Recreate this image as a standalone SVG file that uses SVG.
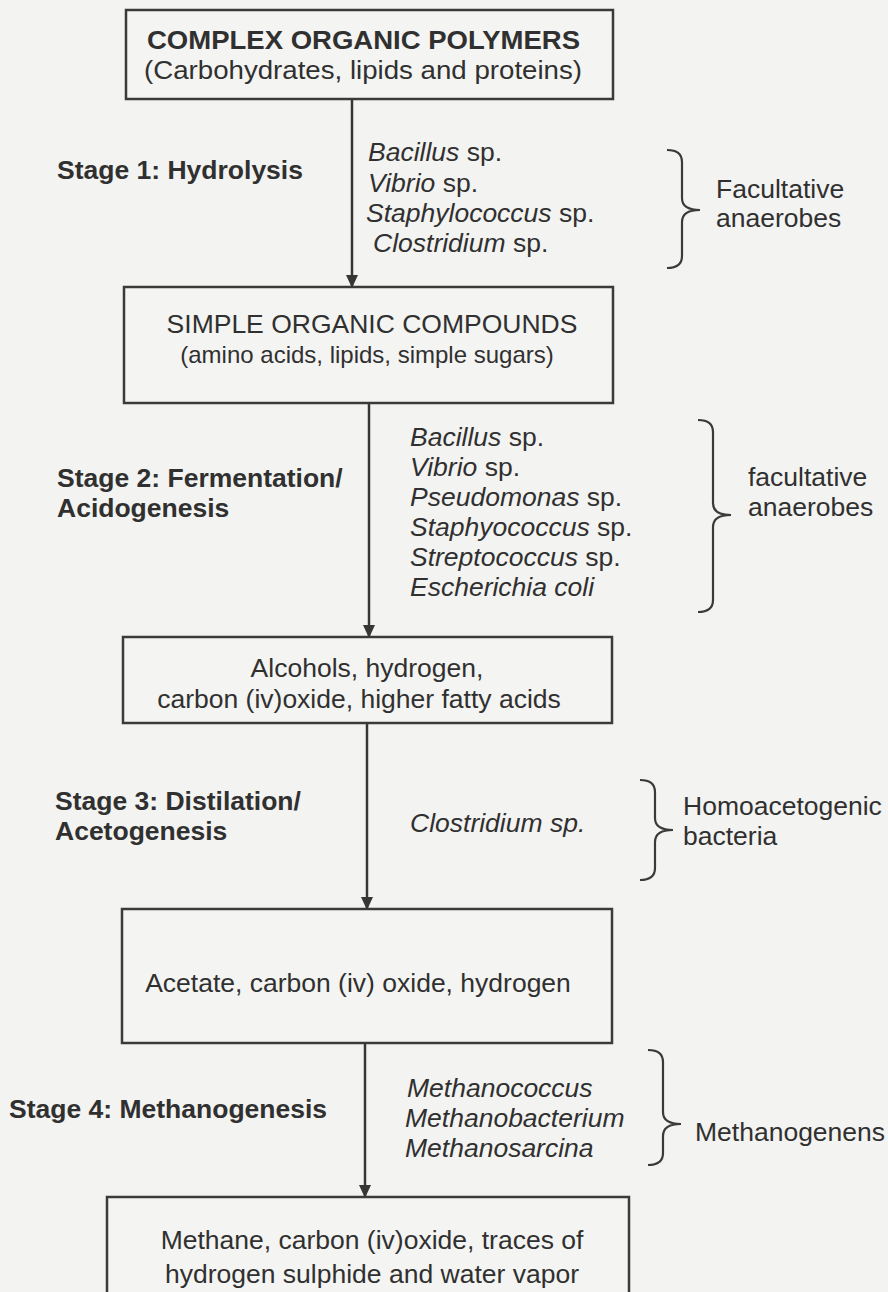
<svg xmlns="http://www.w3.org/2000/svg" width="888" height="1292" viewBox="0 0 888 1292">
<defs>
<marker id="ah" markerWidth="13" markerHeight="12" refX="12" refY="6" orient="auto" markerUnits="userSpaceOnUse" viewBox="0 0 13 12">
<path d="M0,0 L13,6 L0,12 Z" fill="#363636"/>
</marker>
<style>
.box{fill:#f4f4f2;stroke:#3a3a3a;stroke-width:2.5}
.t{font-family:"Liberation Sans",Arial,sans-serif;font-size:26.5px;fill:#303030}
.b{font-weight:bold}
.i{font-style:italic}
.c{text-anchor:middle}
.con{stroke:#363636;stroke-width:2.5;fill:none}
.br{stroke:#3a3a3a;stroke-width:2.2;fill:none}
</style>
</defs>
<rect x="0" y="0" width="888" height="1292" fill="#f3f3f1"/>

<g id="connectors">
<line class="con" x1="352" y1="100" x2="352" y2="287" marker-end="url(#ah)"/>
<line class="con" x1="369" y1="404" x2="369" y2="637" marker-end="url(#ah)"/>
<line class="con" x1="367" y1="724" x2="367" y2="909" marker-end="url(#ah)"/>
<line class="con" x1="365" y1="1044" x2="365" y2="1197" marker-end="url(#ah)"/>
</g>

<g id="node1">
<rect class="box" x="126" y="10" width="487" height="89"/>
<text class="t b" x="147" y="49" textLength="433" lengthAdjust="spacingAndGlyphs">COMPLEX ORGANIC POLYMERS</text>
<text class="t" x="144" y="79" textLength="438" lengthAdjust="spacingAndGlyphs">(Carbohydrates, lipids and proteins)</text>
</g>

<g id="node2">
<rect class="box" x="124" y="287" width="489" height="116"/>
<text class="t c" x="372" y="333">SIMPLE ORGANIC COMPOUNDS</text>
<text class="t c" x="367" y="363" style="font-size:24px">(amino acids, lipids, simple sugars)</text>
</g>

<g id="node3">
<rect class="box" x="123" y="637" width="489" height="86"/>
<text class="t c" x="367" y="677">Alcohols, hydrogen,</text>
<text class="t c" x="359" y="708">carbon (iv)oxide, higher fatty acids</text>
</g>

<g id="node4">
<rect class="box" x="122" y="909" width="490" height="134"/>
<text class="t c" x="358" y="992">Acetate, carbon (iv) oxide, hydrogen</text>
</g>

<g id="node5">
<rect class="box" x="107" y="1197" width="522" height="110"/>
<text class="t c" x="372" y="1249">Methane, carbon (iv)oxide, traces of</text>
<text class="t c" x="372" y="1283">hydrogen sulphide and water vapor</text>
</g>

<g id="stage1">
<text class="t b" x="57" y="179">Stage 1: Hydrolysis</text>
<text class="t" x="368" y="161"><tspan class="i">Bacillus</tspan> sp.</text>
<text class="t" x="368" y="192"><tspan class="i">Vibrio</tspan> sp.</text>
<text class="t" x="366" y="222"><tspan class="i">Staphylococcus</tspan> sp.</text>
<text class="t" x="373" y="252"><tspan class="i">Clostridium</tspan> sp.</text>
<path class="br" d="M667,150 Q682,150 682,162 L682,198 Q682,210 700,210 Q682,210 682,222 L682,256 Q682,268 667,268"/>
<text class="t" x="716" y="198">Facultative</text>
<text class="t" x="716" y="227">anaerobes</text>
</g>

<g id="stage2">
<text class="t b" x="57" y="487">Stage 2: Fermentation/</text>
<text class="t b" x="57" y="517">Acidogenesis</text>
<text class="t" x="410" y="446"><tspan class="i">Bacillus</tspan> sp.</text>
<text class="t" x="410" y="476"><tspan class="i">Vibrio</tspan> sp.</text>
<text class="t" x="410" y="506"><tspan class="i">Pseudomonas</tspan> sp.</text>
<text class="t" x="410" y="536"><tspan class="i">Staphyococcus</tspan> sp.</text>
<text class="t" x="410" y="566"><tspan class="i">Streptococcus</tspan> sp.</text>
<text class="t i" x="410" y="596">Escherichia coli</text>
<path class="br" d="M698,420 Q713,420 713,432 L713,503 Q713,515 731,515 Q713,515 713,527 L713,600 Q713,612 698,612"/>
<text class="t" x="748" y="486">facultative</text>
<text class="t" x="748" y="516">anaerobes</text>
</g>

<g id="stage3">
<text class="t b" x="55" y="810">Stage 3: Distilation/</text>
<text class="t b" x="55" y="840">Acetogenesis</text>
<text class="t i" x="410" y="832">Clostridium sp.</text>
<path class="br" d="M640,780 Q655,780 655,792 L655,818 Q655,830 673,830 Q655,830 655,842 L655,868 Q655,880 640,880"/>
<text class="t" x="683" y="815">Homoacetogenic</text>
<text class="t" x="683" y="845">bacteria</text>
</g>

<g id="stage4">
<text class="t b" x="9" y="1118">Stage 4: Methanogenesis</text>
<text class="t i" x="407" y="1097">Methanococcus</text>
<text class="t i" x="405" y="1127">Methanobacterium</text>
<text class="t i" x="405" y="1157">Methanosarcina</text>
<path class="br" d="M648,1050 Q663,1050 663,1062 L663,1112 Q663,1124 681,1124 Q663,1124 663,1136 L663,1153 Q663,1165 648,1165"/>
<text class="t" x="695" y="1141">Methanogenens</text>
</g>
</svg>
